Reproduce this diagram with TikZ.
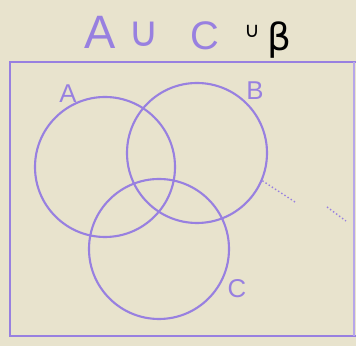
\documentclass[tikz,border=0pt]{standalone}
\usepackage{fontspec}
\setsansfont{Liberation Sans}
\newfontfamily\symfam{DejaVu Sans}
\definecolor{paper}{RGB}{232,227,205}
\definecolor{ink}{RGB}{152,128,224}
\begin{document}
\begin{tikzpicture}[x=0.03cm,y=-0.03cm,
    setcirc/.style={draw=ink, line width=1.8pt, circle, minimum size=4.2cm, inner sep=0pt},
    setlbl/.style={text=ink, font=\sffamily\fontsize{22}{22}\selectfont, inner sep=0pt}]
    % Paper and frame
    \fill[paper] (0,0) rectangle (356,346);
    \useasboundingbox (0,0) rectangle (356,346);
    \draw[ink, line width=1.6pt] (356,62) -- (10,62) -- (10,336) -- (356,336);
    \draw[ink!70, line width=1.2pt] (354,62) -- (354,336);

    % Title
    \node[text=ink, font=\sffamily\fontsize{40}{40}\selectfont] (tA) at (100,32) {A};
    \node[text=ink, font=\symfam\fontsize{36}{36}\selectfont] (tcup) at (144,34) {∪};
    \node[text=ink, font=\sffamily\fontsize{34}{34}\selectfont] (tC) at (205,36) {C};
    \node[font=\symfam\fontsize{18}{18}\selectfont] (bcup) at (252,31) {∪};
    \node[font=\symfam\fontsize{32}{32}\selectfont] (bbeta) at (279,40) {β};

    % Sets
    \node[setcirc] (circA) at (105,167) {};
    \node[setcirc] (circB) at (197,153) {};
    \node[setcirc] (circC) at (159,249) {};
    \node[setlbl] (lblA) at (68,94) {A};
    \node[setlbl] (lblB) at (255,91) {B};
    \node[setlbl] (lblC) at (237,289) {C};

    % Dotted trace
    \coordinate (d2) at (295,202);
    \coordinate (d3) at (327,207);
    \coordinate (d4) at (346,221);
    \draw[ink, line width=1.2pt, dotted] (circB.-23) -- (d2);
    \draw[ink, line width=1.2pt, dotted] (d3) -- (d4);
\end{tikzpicture}
\end{document}
